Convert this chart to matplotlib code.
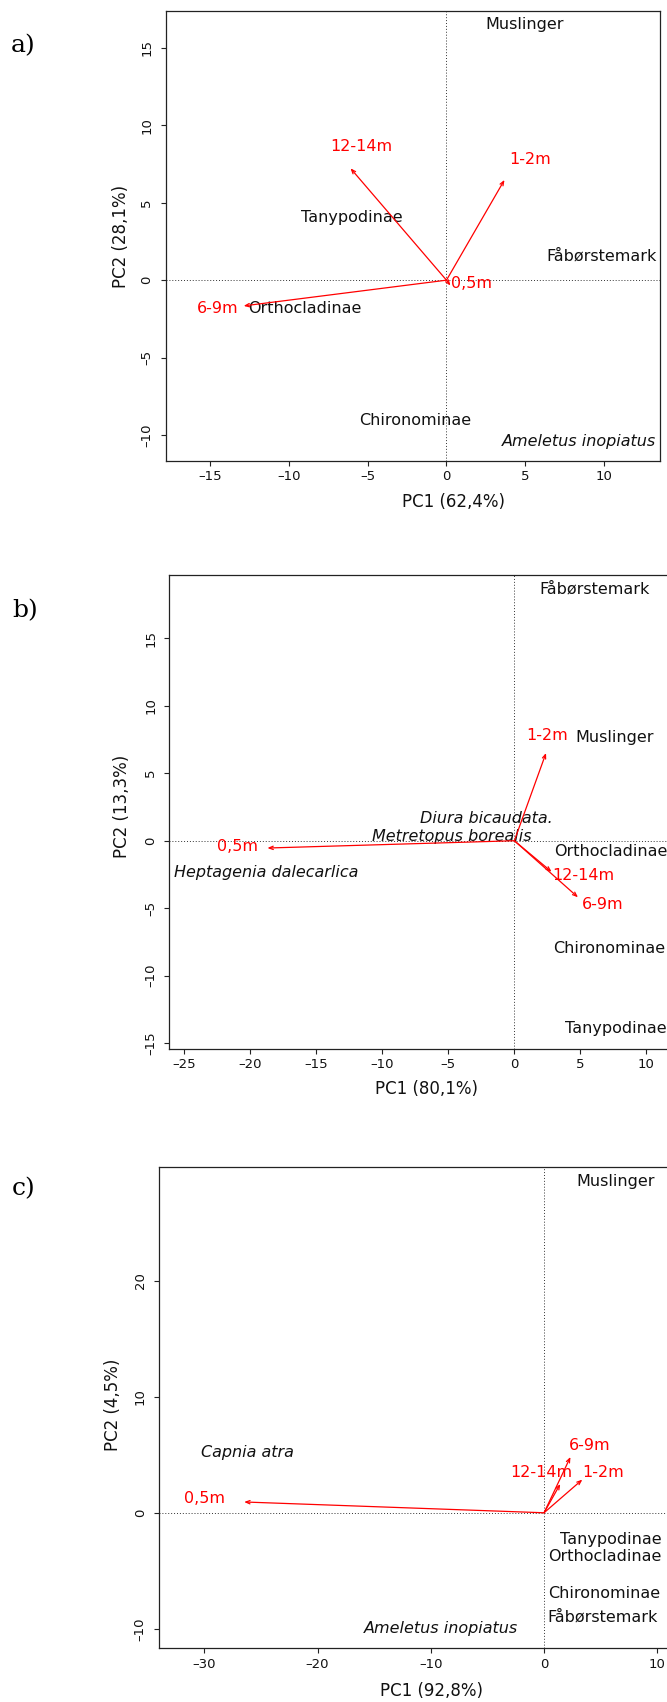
import matplotlib
matplotlib.use('Agg')
import matplotlib.pyplot as plt
from matplotlib.ticker import FuncFormatter

# ---- panel a) ----
species_a = ['Muslinger', 'Tanypodinae', 'Fåbørstemark', 'Orthocladinae', 'Chironominae', 'Ameletus inopiatus']
species_a_x = [4.98, -6.0, 9.87, -8.96, -1.96, 8.43]
species_a_y = [16.5, 4.06, 1.59, -1.81, -9.05, -10.4]
species_a_italic = [False, False, False, False, False, True]
depths_a = ['12-14m', '1-2m', '6-9m', '0,5m']
depths_a_x = [-6.09, 3.68, -12.87, 0.25]
depths_a_y = [7.22, 6.47, -1.66, -0.35]
depths_a_lab_x = [-5.41, 5.3, -14.55, 1.59]
depths_a_lab_y = [8.62, 7.76, -1.81, -0.24]

# ---- panel b) ----
species_b = ['Fåbørstemark', 'Muslinger', 'Diura bicaudata.', 'Metretopus borealis', 'Heptagenia dalecarlica',
             'Orthocladinae', 'Chironominae', 'Tanypodinae']
species_b_x = [6.06, 7.6, -2.1, -4.72, -18.8, 7.28, 7.18, 7.68]
species_b_y = [18.68, 7.65, 1.63, 0.30, -2.33, -0.81, -7.96, -13.94]
species_b_italic = [False, False, True, True, True, False, False, False]
depths_b = ['0,5m', '1-2m', '12-14m', '6-9m']
depths_b_x = [-18.7, 2.4, 2.82, 4.82]
depths_b_y = [-0.54, 6.5, -2.3, -4.19]
depths_b_lab_x = [-20.94, 2.45, 5.25, 6.7]
depths_b_lab_y = [-0.46, 7.8, -2.54, -4.7]

# ---- panel c) ----
species_c = ['Muslinger', 'Capnia atra', 'Tanypodinae', 'Orthocladinae', 'Chironominae', 'Fåbørstemark',
             'Ameletus inopiatus']
species_c_x = [6.31, -26.18, 5.9, 5.33, 5.33, 5.18, -9.13]
species_c_y = [28.57, 5.19, -2.27, -3.79, -6.93, -8.94, -9.94]
species_c_italic = [False, True, False, False, False, False, True]
depths_c = ['0,5m', '6-9m', '12-14m', '1-2m']
depths_c_x = [-26.48, 2.33, 1.43, 3.38]
depths_c_y = [0.93, 4.81, 2.48, 2.86]
depths_c_lab_x = [-29.97, 4.02, -0.26, 5.26]
depths_c_lab_y = [1.24, 5.84, 3.48, 3.48]

W, H = 667, 1702
fig = plt.figure(figsize=(W / 100, H / 100), dpi=100)


def px_rect(left, top, right, bottom):
    # pixel box (from top left) -> figure fraction rect
    return [left / W, 1 - bottom / H, (right - left) / W, (bottom - top) / H]


def dash_minus(v, pos):
    return ('%g' % v).replace('-', '\u2013')


def draw_panel(rect, xlim, ylim, xticks, yticks, xlabel, ylabel, xlab_px, ylab_px, tag, tag_px,
               names, sx, sy, italic, depths, dx, dy, lx, ly):
    ax = fig.add_axes(px_rect(*rect))
    ax.set_xlim(xlim)
    ax.set_ylim(ylim)
    ax.set_xticks(xticks)
    ax.set_yticks(yticks)
    ax.xaxis.set_major_formatter(FuncFormatter(dash_minus))
    ax.yaxis.set_major_formatter(FuncFormatter(dash_minus))
    ax.tick_params(length=3.6, width=0.8, labelsize=9.5, color='#222222', labelcolor='#111111')
    ax.tick_params(axis='x', pad=3.2)
    ax.tick_params(axis='y', pad=5.2)
    for lab in ax.get_yticklabels():
        lab.set_rotation(90)
        lab.set_va('center')
    for sp in ax.spines.values():
        sp.set_linewidth(0.9)
        sp.set_color('#222222')

    # dotted zero lines like R biplot
    ax.axhline(0, color='#333333', lw=0.7, ls=(0, (1, 2)))
    ax.axvline(0, color='#333333', lw=0.7, ls=(0, (1, 2)))

    for name, x, y, it in zip(names, sx, sy, italic):
        ax.text(x, y, name, ha='center', va='center', fontsize=11.5, color='#111111',
                style='italic' if it else 'normal')

    for name, x, y, tx, ty in zip(depths, dx, dy, lx, ly):
        ax.annotate('', xy=(x, y), xytext=(0, 0),
                    arrowprops=dict(arrowstyle='->,head_length=0.3,head_width=0.12', color='red',
                                    lw=0.9, shrinkA=0, shrinkB=0))
        ax.text(tx, ty, name, ha='center', va='center', fontsize=11.5, color='red')

    ax.set_xlabel(xlabel, fontsize=12, color='#111111', va='center')
    ax.set_ylabel(ylabel, fontsize=12, color='#111111', va='center')
    ax.xaxis.set_label_coords(xlab_px[0] / W, 1 - xlab_px[1] / H, transform=fig.transFigure)
    ax.yaxis.set_label_coords(ylab_px[0] / W, 1 - ylab_px[1] / H, transform=fig.transFigure)

    fig.text(tag_px[0] / W, 1 - tag_px[1] / H, tag, fontsize=18, family='DejaVu Serif',
             ha='center', va='center')
    return ax


draw_panel((165.5, 10.7, 660, 461), (-17.83, 13.55), (-11.67, 17.39),
           [-15, -10, -5, 0, 5, 10], [-10, -5, 0, 5, 10, 15],
           'PC1 (62,4%)', 'PC2 (28,1%)', (453, 501.7), (121, 236.5), 'a)', (23.5, 46),
           species_a, species_a_x, species_a_y, species_a_italic,
           depths_a, depths_a_x, depths_a_y, depths_a_lab_x, depths_a_lab_y)

draw_panel((169.3, 574.7, 700, 1049), (-26.13, 14.06), (-15.43, 19.71),
           [-25, -20, -15, -10, -5, 0, 5, 10], [-15, -10, -5, 0, 5, 10, 15],
           'PC1 (80,1%)', 'PC2 (13,3%)', (426.5, 1088.5), (121.8, 806), 'b)', (25, 611),
           species_b, species_b_x, species_b_y, species_b_italic,
           depths_b, depths_b_x, depths_b_y, depths_b_lab_x, depths_b_lab_y)

draw_panel((159, 1167, 700, 1648.3), (-34.0, 13.77), (-11.68, 29.8),
           [-30, -20, -10, 0, 10], [-10, 0, 10, 20],
           'PC1 (92,8%)', 'PC2 (4,5%)', (431, 1691), (113.5, 1404.7), 'c)', (23.5, 1188.5),
           species_c, species_c_x, species_c_y, species_c_italic,
           depths_c, depths_c_x, depths_c_y, depths_c_lab_x, depths_c_lab_y)

fig.savefig('out.png', dpi=100)
